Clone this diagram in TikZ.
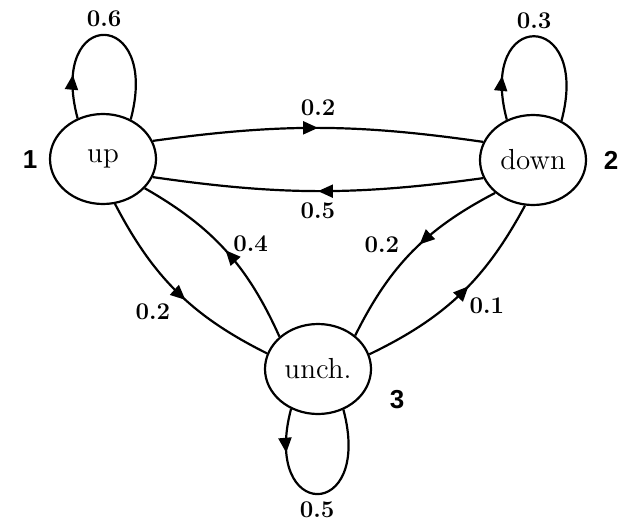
\documentclass[tikz,border=0pt]{standalone}
\usepackage{fontspec}
\newfontfamily\numfont{Liberation Sans}
\usetikzlibrary{arrows.meta}
\usetikzlibrary{shapes.geometric, decorations.markings, positioning}

\begin{document}
\begin{tikzpicture}[x=0.5pt,y=0.5pt,
    midArr/.style={postaction={decorate},decoration={markings,
        mark=at position #1 with {\arrow{Triangle[length=7.5pt,width=6.5pt]}}}}]
            \tikzstyle{myEll}=[ellipse,draw,line width=1.1pt,minimum width=53pt,
                               minimum height=45pt,inner sep=0pt,
                               font=\fontsize{14.5}{17}\selectfont];
            \tikzstyle{myEdge}=[line width=1.1pt];
            \tikzstyle{prob}=[font=\fontsize{12}{14}\selectfont\bfseries];
            \tikzstyle{stNum}=[font=\numfont\fontsize{13}{15}\selectfont\bfseries];
            \fill[white] (0,0) rectangle (619,526);
            \useasboundingbox (0,0) rectangle (619,526);
            % states
            \node[myEll] (up) at (103,367) {up};
            \node[myEll] (down) at (533,366) {down};
            \node[myEll] (unch) at (318,157) {unch.};
            \node[stNum] (n1) at (30,366) {1};
            \node[stNum] (n2) at (611,366) {2};
            \node[stNum] (n3) at (397,126) {3};
            % self loops
            \draw[myEdge,midArr=0.22] (up.122) .. controls +(-30,112) and +(30,112) .. 
                  node[prob,pos=0.5,above]{0.6} (up.55);
            \draw[myEdge,midArr=0.22] (down.123) .. controls +(-30,112) and +(30,112) .. 
                  node[prob,pos=0.5,above]{0.3} (down.54);
            \draw[myEdge,midArr=0.22] (unch.236) .. controls +(-30,-113) and +(30,-113) .. 
                  node[prob,pos=0.5,below]{0.5} (unch.302);
            % up <-> down
            \draw[myEdge,midArr=0.5] (up.20) to[bend left=8] 
                  node[prob,above=2pt]{0.2} (down.160);
            \draw[myEdge,midArr=0.5] (down.200) to[bend left=8] 
                  node[prob,below=2pt]{0.5} (up.340);
            % up <-> unch
            \draw[myEdge,midArr=0.55] (up.285) to[bend right=18] 
                  node[prob,pos=0.55,below left=-1.5pt and 3.5pt]{0.2} (unch.163);
            \draw[myEdge,midArr=0.5] (unch.140) to[bend right=18] 
                  node[prob,pos=0.5,above right=-4.5pt and 0pt]{0.4} (up.325);
            % down <-> unch
            \draw[myEdge,midArr=0.45] (down.221) to[bend right=18] 
                  node[prob,pos=0.45,left=6pt]{0.2} (unch.42);
            \draw[myEdge,midArr=0.55] (unch.16) to[bend right=18] 
                  node[prob,pos=0.55,below right=1.5pt and -3pt]{0.1} (down.260);
\end{tikzpicture}
\end{document}
